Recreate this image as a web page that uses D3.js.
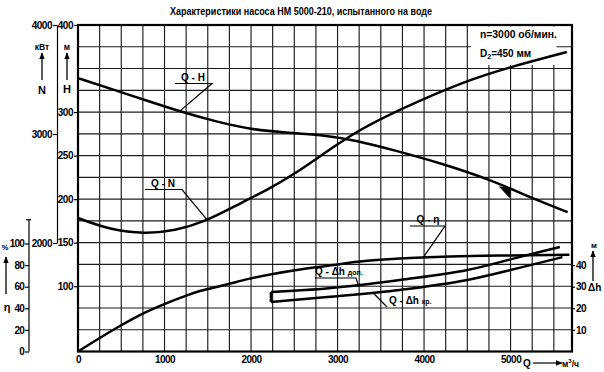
<!DOCTYPE html>
<html>
<head>
<script src="https://d3js.org/d3.v7.min.js"></script>
<style>
  body { margin: 0; background: #fff; }
  svg { font-family: "Liberation Sans", Arial, sans-serif; font-weight: bold; }
  .grid line { stroke: #1c1c1c; stroke-width: 1.15; }
  .curve { fill: none; stroke: #000; stroke-width: 2.5; stroke-linejoin: round; }
  .axis text { font-size: 10px; letter-spacing: -0.5px; fill: #000; }
  .axis line, .axis path { stroke: #000; stroke-width: 1.2; }
  .lbl { font-size: 10px; fill: #000; }
  .lead { stroke: #000; stroke-width: 1.2; fill: none; }
</style>
</head>
<body>
<script>
// Q-H (head, m)
const headQ = [0, 400, 800, 1200, 1600, 2000, 2400, 2800, 3200, 3700, 4200, 4750, 5250, 5660]
const headH = [339, 326, 313, 300, 289, 280, 276.5, 274, 268, 255, 241, 223, 201, 185]

// Q-N (power, kW)
const powerQ = [0, 370, 775, 1120, 1470, 1790, 2185, 2490, 2950, 3250, 3700, 4500, 5000, 5650]
const powerN = [2229, 2121, 2083, 2111, 2197, 2330, 2486, 2624, 2881, 3037, 3220, 3495, 3615, 3752]

// Q-eta (efficiency, %)
const effQ = [0, 450, 720, 970, 1260, 1410, 1720, 1960, 2490, 2950, 3230, 3720, 4300, 5000, 5680]
const effEta = [0, 22, 34, 43, 52, 56, 62, 67, 75, 80, 83, 86, 88, 89, 89.5]

// Q-dh allowable / critical (m)
const npshAllowQ = [2230, 2900, 3260, 3720, 4500, 5100, 5570]
const npshAllow = [27.5, 29.3, 30.8, 33.1, 37.7, 43.7, 48.4]
const npshCritQ = [2230, 2880, 3720, 4500, 5100, 5600]
const npshCrit = [22.9, 25.2, 28.5, 33.1, 38.7, 43.7]

// ticks
const qTicks = [0, 1000, 2000, 3000, 4000, 5000]
const hTicks = [100, 150, 200, 250, 300, 400]
const nTicks = [2000, 3000, 4000]
const etaTicks = [0, 20, 40, 60, 80, 100]
const dhTicks = [10, 20, 30, 40]

const w = 604
const h = 372
const fmt = d3.format('d')

const svg = d3.select('body').append('svg')
    .attr('width', w)
    .attr('height', h)

svg.append('defs').append('marker')
    .attr('id', 'arr')
    .attr('viewBox', '0 0 10 10')
    .attr('refX', 9).attr('refY', 5)
    .attr('markerWidth', 7).attr('markerHeight', 7)
    .attr('markerUnits', 'userSpaceOnUse')
    .attr('orient', 'auto')
    .append('path')
    .attr('d', 'M0,1 L10,5 L0,9 Z')

const x = d3.scaleLinear().domain([0, 5710]).range([78, 572])
const yH = d3.scaleLinear().domain([25, 400]).range([351.5, 25])
const yN = d3.scaleLinear().domain([2000, 4000]).range([243, 25])
const yEta = d3.scaleLinear().domain([0, 100]).range([351.5, 243.5])
const yDh = d3.scaleLinear().domain([0, 50]).range([351.5, 243.5])

const plotTop = yH(400), plotBottom = yH(25), plotLeft = x(0), plotRight = x(5710)

// grid
const grid = svg.append('g').attr('class', 'grid')
grid.selectAll('.v')
    .data(d3.range(250, 5501, 250))
    .enter().append('line')
    .attr('x1', d => x(d)).attr('x2', d => x(d))
    .attr('y1', plotTop).attr('y2', plotBottom)
grid.selectAll('.hz')
    .data(d3.range(50, 400, 25))
    .enter().append('line')
    .attr('x1', plotLeft).attr('x2', plotRight)
    .attr('y1', d => yH(d)).attr('y2', d => yH(d))

// white box behind pump parameters
svg.append('rect')
    .attr('x', x(4540)).attr('y', plotTop + 1.5)
    .attr('width', x(5530) - x(4540))
    .attr('height', yH(354) - plotTop - 1.5)
    .attr('fill', '#fff')

svg.append('rect')
    .attr('x', plotLeft).attr('y', plotTop)
    .attr('width', plotRight - plotLeft).attr('height', plotBottom - plotTop)
    .attr('fill', 'none').attr('stroke', '#000').attr('stroke-width', 2.2)

// axes
const axH = svg.append('g').attr('class', 'axis')
    .attr('transform', `translate(${plotLeft},0)`)
    .call(d3.axisLeft(yH).tickValues(hTicks).tickFormat(fmt).tickSize(4).tickPadding(1).tickSizeOuter(0))
axH.select('.domain').remove()

const axN = svg.append('g').attr('class', 'axis')
    .attr('transform', 'translate(57,0)')
    .call(d3.axisLeft(yN).tickValues(nTicks).tickFormat(fmt).tickSize(4).tickPadding(1).tickSizeOuter(0))

const axEta = svg.append('g').attr('class', 'axis')
    .attr('transform', 'translate(29,0)')
    .call(d3.axisLeft(yEta).tickValues(etaTicks).tickFormat(fmt).tickSize(4).tickPadding(1).tickSizeOuter(0))
axEta.select('.domain').remove()
axEta.selectAll('text').style('letter-spacing', '-0.8px')
axEta.append('line')
    .attr('x1', 0).attr('x2', 0)
    .attr('y1', yEta(0)).attr('y2', yEta(122))
axEta.append('line')
    .attr('x1', -3).attr('x2', 2)
    .attr('y1', yEta(122)).attr('y2', yEta(122))

const axDh = svg.append('g').attr('class', 'axis')
    .attr('transform', `translate(${plotRight},0)`)
    .call(d3.axisRight(yDh).tickValues(dhTicks).tickFormat(fmt).tickSize(3).tickPadding(1).tickSizeOuter(0))
axDh.select('.domain').remove()

const axQ = svg.append('g').attr('class', 'axis')
    .attr('transform', `translate(0,${plotBottom})`)
    .call(d3.axisBottom(x).tickValues(qTicks).tickFormat(fmt).tickSize(0).tickPadding(4))
axQ.select('.domain').remove()

// curves
function drawCurve(qs, vs, ys, curve) {
    const line = d3.line()
        .x(d => x(d[0]))
        .y(d => ys(d[1]))
        .curve(curve)
    svg.append('path')
        .attr('class', 'curve')
        .attr('d', line(d3.zip(qs, vs)))
}
drawCurve(headQ, headH, yH, d3.curveBasis)
drawCurve(powerQ, powerN, yN, d3.curveBasis)
drawCurve(effQ, effEta, yEta, d3.curveMonotoneX)
drawCurve(npshAllowQ, npshAllow, yDh, d3.curveMonotoneX)
drawCurve(npshCritQ, npshCrit, yDh, d3.curveMonotoneX)

svg.append('line')
    .attr('class', 'curve')
    .attr('x1', x(npshCritQ[0])).attr('x2', x(npshAllowQ[0]))
    .attr('y1', yDh(npshCrit[0])).attr('y2', yDh(npshAllow[0]))

// marker on Q-H
const mx = x(4990), my = yH(212.5)
svg.append('path')
    .attr('d', `M${mx - 11},${my - 2} L${mx + 1},${my} L${mx},${my + 10} Z`)
    .attr('fill', '#000')

// title
svg.append('text')
    .attr('x', 170).attr('y', 15)
    .attr('textLength', 262)
    .attr('lengthAdjust', 'spacingAndGlyphs')
    .style('font-size', '10px')
    .text('Характеристики насоса НМ 5000-210, испытанного на воде')

// pump parameters
svg.append('text').attr('class', 'lbl')
    .attr('x', 480).attr('y', 38)
    .attr('textLength', 77).attr('lengthAdjust', 'spacingAndGlyphs')
    .text('n=3000 об/мин.')
const d2 = svg.append('text').attr('class', 'lbl')
    .attr('x', 480).attr('y', 57)
d2.append('tspan').text('D')
d2.append('tspan').attr('dy', 2).style('font-size', '7px').text('2')
d2.append('tspan').attr('dy', -2).text('=450 мм')

// curve labels
function label(tx, ty, str, pts) {
    svg.append('text').attr('class', 'lbl')
        .attr('x', tx).attr('y', ty)
        .attr('text-anchor', 'middle')
        .text(str)
    svg.append('path').attr('class', 'lead')
        .attr('d', d3.line()(pts))
}
label(193, 81, 'Q - H', [[175, 83.5], [212, 83.5], [x(1170), yH(300.5)]])
label(163, 187, 'Q - N', [[145, 189.5], [182, 189.5], [x(1500), yN(2205)]])
label(428, 223, 'Q - η', [[410, 226], [445, 226], [x(3990), yEta(87)]])

const dhA = svg.append('text').attr('class', 'lbl').attr('x', 315).attr('y', 275)
dhA.append('tspan').text('Q - Δh ')
dhA.append('tspan').style('font-size', '7px').text('доп.')
svg.append('path').attr('class', 'lead')
    .attr('d', d3.line()([[315, 278], [356, 278], [x(3240), yDh(30.7)]]))

const dhK = svg.append('text').attr('class', 'lbl').attr('x', 389).attr('y', 304)
dhK.append('tspan').text('Q - Δh ')
dhK.append('tspan').style('font-size', '7px').text('кр.')
svg.append('path').attr('class', 'lead')
    .attr('d', d3.line()([[x(3410), yDh(27.2)], [387, 307]]))

// axis captions
function arrowUp(ax, y1, y2) {
    svg.append('line')
        .attr('x1', ax).attr('x2', ax)
        .attr('y1', y1).attr('y2', y2)
        .attr('stroke', '#000').attr('stroke-width', 1.3)
        .attr('marker-end', 'url(#arr)')
}
function caption(cx, cy, str, size) {
    svg.append('text')
        .attr('x', cx).attr('y', cy)
        .attr('text-anchor', 'middle')
        .style('font-size', size + 'px')
        .text(str)
}
caption(42, 50, 'кВт', 8.5)
arrowUp(42, 80, 53)
caption(42, 94, 'N', 11)
caption(67, 50, 'м', 8.5)
arrowUp(67, 80, 53)
caption(67, 93, 'H', 11)

caption(5, 250, '%', 7.5)
arrowUp(6, 294, 257)
caption(7, 311, 'η', 11)

caption(594, 248, 'м', 8)
arrowUp(593, 281, 251)
svg.append('text').attr('x', 588).attr('y', 291).style('font-size', '10px').text('Δh')

svg.append('text').attr('x', 523).attr('y', 367).style('font-size', '10px').text('Q')
svg.append('line')
    .attr('x1', 533).attr('x2', 562)
    .attr('y1', 363).attr('y2', 363)
    .attr('stroke', '#000').attr('stroke-width', 1.2)
    .attr('marker-end', 'url(#arr)')
const unit = svg.append('text').attr('x', 562).attr('y', 367).style('font-size', '8.5px')
unit.append('tspan').text('м')
unit.append('tspan').attr('dy', -4).style('font-size', '6px').text('3')
unit.append('tspan').attr('dy', 4).text('/ч')
</script>
</body>
</html>
